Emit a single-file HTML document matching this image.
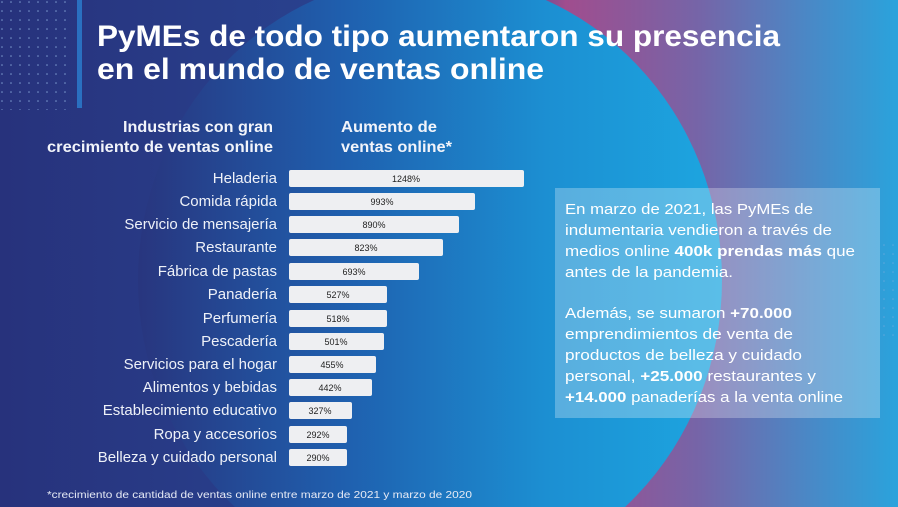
<!DOCTYPE html>
<html><head><meta charset="utf-8"><style>
html,body{margin:0;padding:0;width:898px;height:507px;overflow:hidden;background:#27357f}
svg{display:block}
text{font-family:"Liberation Sans",sans-serif}
</style></head><body>
<svg width="898" height="507" viewBox="0 0 898 507" xmlns="http://www.w3.org/2000/svg" style="position:absolute;left:0;top:0">
<defs>
<linearGradient id="base" x1="0" y1="0" x2="1" y2="0">
<stop offset="0" stop-color="#27327c"/>
<stop offset="0.55" stop-color="#2a4a98"/>
<stop offset="0.63" stop-color="#a04d8e"/>
<stop offset="0.78" stop-color="#7565a8"/>
<stop offset="0.9" stop-color="#4a88c6"/>
<stop offset="1" stop-color="#2aa3dc"/>
</linearGradient>
<linearGradient id="circ" x1="140" y1="0" x2="720" y2="0" gradientUnits="userSpaceOnUse">
<stop offset="0" stop-color="#28367f"/>
<stop offset="0.35" stop-color="#1f5fae"/>
<stop offset="0.7" stop-color="#1c8fd2"/>
<stop offset="1" stop-color="#1da6e0"/>
</linearGradient>
<pattern id="dots" width="9" height="9" patternUnits="userSpaceOnUse">
<circle cx="2" cy="2" r="0.8" fill="#8fb0e0" opacity="0.8"/>
</pattern>
</defs>
<rect width="898" height="507" fill="url(#base)"/>
<ellipse cx="430" cy="280" rx="292" ry="305" fill="url(#circ)"/>
<rect x="0" y="0" width="72" height="110" fill="url(#dots)"/>
<rect x="77" y="0" width="5" height="108" fill="#2b7fd0" opacity="0.8"/>

<text x="97" y="46" font-size="30" font-weight="bold" fill="#fff" textLength="683" lengthAdjust="spacingAndGlyphs">PyMEs de todo tipo aumentaron su presencia</text>
<text x="97" y="79" font-size="30" font-weight="bold" fill="#fff" textLength="447" lengthAdjust="spacingAndGlyphs">en el mundo de ventas online</text>

<g font-size="15.5" font-weight="bold" fill="#f2f4fa">
<text x="273" y="132" text-anchor="end" textLength="150" lengthAdjust="spacingAndGlyphs">Industrias con gran</text>
<text x="273" y="152" text-anchor="end" textLength="226" lengthAdjust="spacingAndGlyphs">crecimiento de ventas online</text>
<text x="341" y="132" textLength="96" lengthAdjust="spacingAndGlyphs">Aumento de</text>
<text x="341" y="152" textLength="111" lengthAdjust="spacingAndGlyphs">ventas online*</text>
</g>

<g font-size="15" fill="#eef1f8" text-anchor="end">
<text x="277" y="183">Heladeria</text>
<text x="277" y="206">Comida rápida</text>
<text x="277" y="229">Servicio de mensajería</text>
<text x="277" y="252">Restaurante</text>
<text x="277" y="276">Fábrica de pastas</text>
<text x="277" y="299">Panadería</text>
<text x="277" y="323">Perfumería</text>
<text x="277" y="346">Pescadería</text>
<text x="277" y="369">Servicios para el hogar</text>
<text x="277" y="392">Alimentos y bebidas</text>
<text x="277" y="415">Establecimiento educativo</text>
<text x="277" y="439">Ropa y accesorios</text>
<text x="277" y="462">Belleza y cuidado personal</text>
</g>

<g fill="#eeeff2">
<rect x="289" y="170" width="235" height="17" rx="2"/>
<rect x="289" y="193" width="186" height="17" rx="2"/>
<rect x="289" y="216" width="170" height="17" rx="2"/>
<rect x="289" y="239" width="154" height="17" rx="2"/>
<rect x="289" y="263" width="130" height="17" rx="2"/>
<rect x="289" y="286" width="98" height="17" rx="2"/>
<rect x="289" y="310" width="98" height="17" rx="2"/>
<rect x="289" y="333" width="95" height="17" rx="2"/>
<rect x="289" y="356" width="87" height="17" rx="2"/>
<rect x="289" y="379" width="83" height="17" rx="2"/>
<rect x="289" y="402" width="63" height="17" rx="2"/>
<rect x="289" y="426" width="58" height="17" rx="2"/>
<rect x="289" y="449" width="58" height="17" rx="2"/>
</g>
<g font-size="9" fill="#222" text-anchor="middle">
<text x="406" y="182">1248%</text>
<text x="382" y="205">993%</text>
<text x="374" y="228">890%</text>
<text x="366" y="251">823%</text>
<text x="354" y="275">693%</text>
<text x="338" y="298">527%</text>
<text x="338" y="322">518%</text>
<text x="336" y="345">501%</text>
<text x="332" y="368">455%</text>
<text x="330" y="391">442%</text>
<text x="320" y="414">327%</text>
<text x="318" y="438">292%</text>
<text x="318" y="461">290%</text>
</g>

<text x="47" y="498" font-size="10" fill="#e6eaf5" textLength="425" lengthAdjust="spacingAndGlyphs">*crecimiento de cantidad de ventas online entre marzo de 2021 y marzo de 2020</text>

<rect x="555" y="188" width="325" height="230" fill="#ffffff" opacity="0.27"/>
<g font-size="15" fill="#fff" lengthAdjust="spacingAndGlyphs">
<text x="565" y="214" textLength="248" lengthAdjust="spacingAndGlyphs">En marzo de 2021, las PyMEs  de</text>
<text x="565" y="235" textLength="267" lengthAdjust="spacingAndGlyphs">indumentaria vendieron a través de</text>
<text x="565" y="256" textLength="290" lengthAdjust="spacingAndGlyphs">medios online <tspan font-weight="bold">400k prendas más</tspan> que</text>
<text x="565" y="277" textLength="168" lengthAdjust="spacingAndGlyphs">antes de la pandemia.</text>
<text x="565" y="318" textLength="227" lengthAdjust="spacingAndGlyphs">Además, se sumaron <tspan font-weight="bold">+70.000</tspan></text>
<text x="565" y="339" textLength="228" lengthAdjust="spacingAndGlyphs">emprendimientos de venta de</text>
<text x="565" y="360" textLength="237" lengthAdjust="spacingAndGlyphs">productos de belleza y cuidado</text>
<text x="565" y="381" textLength="251" lengthAdjust="spacingAndGlyphs">personal, <tspan font-weight="bold">+25.000</tspan> restaurantes y</text>
<text x="565" y="402" textLength="278" lengthAdjust="spacingAndGlyphs"><tspan font-weight="bold">+14.000</tspan> panaderías a la venta online</text>
</g>
<rect x="880" y="240" width="18" height="100" fill="url(#dots)" opacity="0.6"/>
</svg>
</body></html>
